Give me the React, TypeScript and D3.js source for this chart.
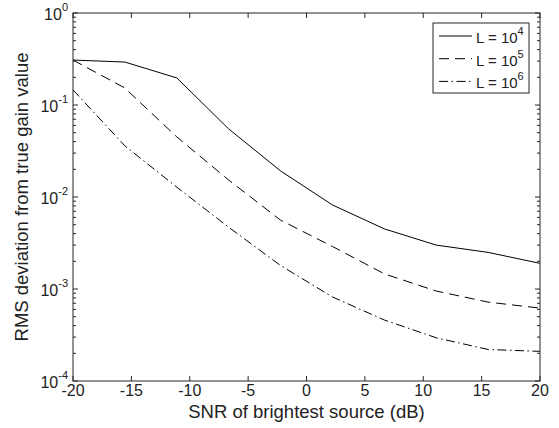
import * as d3 from "d3";
import React from "react";

const snr = [-20, -15.56, -11.11, -6.67, -2.22, 2.22, 6.67, 11.11, 15.56, 20];
const l4 = [0.308, 0.293, 0.197, 0.055, 0.0192, 0.0082, 0.0045, 0.003, 0.0025, 0.0019];
const l5 = [0.308, 0.153, 0.045, 0.0153, 0.0056, 0.0029, 0.00146, 0.00095, 0.00072, 0.00062];
const l6 = [0.146, 0.036, 0.0128, 0.0047, 0.0018, 0.00082, 0.00046, 0.000295, 0.00022, 0.00021];
const seriesLabels = ["4", "5", "6"];
const xTicks = [-20, -15, -10, -5, 0, 5, 10, 15, 20];
const yDecades = [0, -1, -2, -3, -4];

const W = 559;
const H = 428;
const M = { left: 73, right: 540, top: 13, bottom: 381 };
const FONT = "'Liberation Sans', Arial, Helvetica, sans-serif";

export default function App() {
  const x = d3.scaleLinear().domain([-20, 20]).range([M.left, M.right]);
  const y = d3.scaleLog().domain([1e-4, 1]).range([M.bottom, M.top]);

  const line = d3
    .line<number>()
    .x((_, i) => x(snr[i]))
    .y((d) => y(d));

  const series = [
    { data: l4, dash: "none" },
    { data: l5, dash: "10,6" },
    { data: l6, dash: "9,3.5,1.5,3.5" },
  ];

  // minor log ticks 2..9 per decade
  const minor: number[] = [];
  for (let e = -4; e < 0; e++) {
    for (let k = 2; k <= 9; k++) minor.push(k * Math.pow(10, e));
  }

  const stroke = "#262626";
  const txt = "#222";
  const majLen = 5;
  const minLen = 3;

  return (
    <svg
      width={W}
      height={H}
      style={{ position: "absolute", left: 0, top: 0, background: "#fff" }}
      fontFamily={FONT}
    >
      <rect x={0} y={0} width={W} height={H} fill="#fff" />
      {/* data lines */}
      {series.map((s, i) => (
        <path
          key={i}
          d={line(s.data) || ""}
          fill="none"
          stroke="#000"
          strokeWidth={1}
          strokeDasharray={s.dash}
        />
      ))}

      {/* box */}
      <rect
        x={M.left}
        y={M.top}
        width={M.right - M.left}
        height={M.bottom - M.top}
        fill="none"
        stroke={stroke}
        strokeWidth={1}
      />

      {/* x ticks */}
      {xTicks.map((t) => (
        <g key={"x" + t}>
          <line x1={x(t)} x2={x(t)} y1={M.bottom} y2={M.bottom - majLen} stroke={stroke} />
          <line x1={x(t)} x2={x(t)} y1={M.top} y2={M.top + majLen} stroke={stroke} />
          <text x={x(t)} y={M.bottom + 15} textAnchor="middle" fontSize={16} fill={txt}>
            {t}
          </text>
        </g>
      ))}

      {/* y major ticks */}
      {yDecades.map((e) => {
        const yy = y(Math.pow(10, e));
        return (
          <g key={"y" + e}>
            <line x1={M.left} x2={M.left + majLen} y1={yy} y2={yy} stroke={stroke} />
            <line x1={M.right} x2={M.right - majLen} y1={yy} y2={yy} stroke={stroke} />
            <text x={M.left - 5} y={yy + 7} textAnchor="end" fontSize={16} fill={txt}>
              10
              <tspan dy={-9} fontSize={11}>
                {e}
              </tspan>
            </text>
          </g>
        );
      })}

      {/* y minor ticks */}
      {minor.map((v) => (
        <g key={"m" + v}>
          <line x1={M.left} x2={M.left + minLen} y1={y(v)} y2={y(v)} stroke={stroke} />
          <line x1={M.right} x2={M.right - minLen} y1={y(v)} y2={y(v)} stroke={stroke} />
        </g>
      ))}

      {/* axis labels */}
      <text
        x={(M.left + M.right) / 2}
        y={M.bottom + 37}
        textAnchor="middle"
        fontSize={18.5}
        fill={txt}
      >
        SNR of brightest source (dB)
      </text>
      <text
        transform={`translate(28,${(M.top + M.bottom) / 2}) rotate(-90)`}
        textAnchor="middle"
        fontSize={18.5}
        fill={txt}
      >
        RMS deviation from true gain value
      </text>

      {/* legend */}
      <rect x={433} y={23} width={96} height={70} fill="#fff" stroke={stroke} />
      {series.map((s, i) => {
        const ly = 36 + i * 22.7;
        return (
          <g key={"lg" + i}>
            <line x1={439} x2={472} y1={ly} y2={ly} stroke="#000" strokeDasharray={s.dash} />
            <text x={476} y={ly + 7} fontSize={15} fill={txt}>
              L = 10
              <tspan dy={-8} fontSize={11}>
                {seriesLabels[i]}
              </tspan>
            </text>
          </g>
        );
      })}
    </svg>
  );
}
